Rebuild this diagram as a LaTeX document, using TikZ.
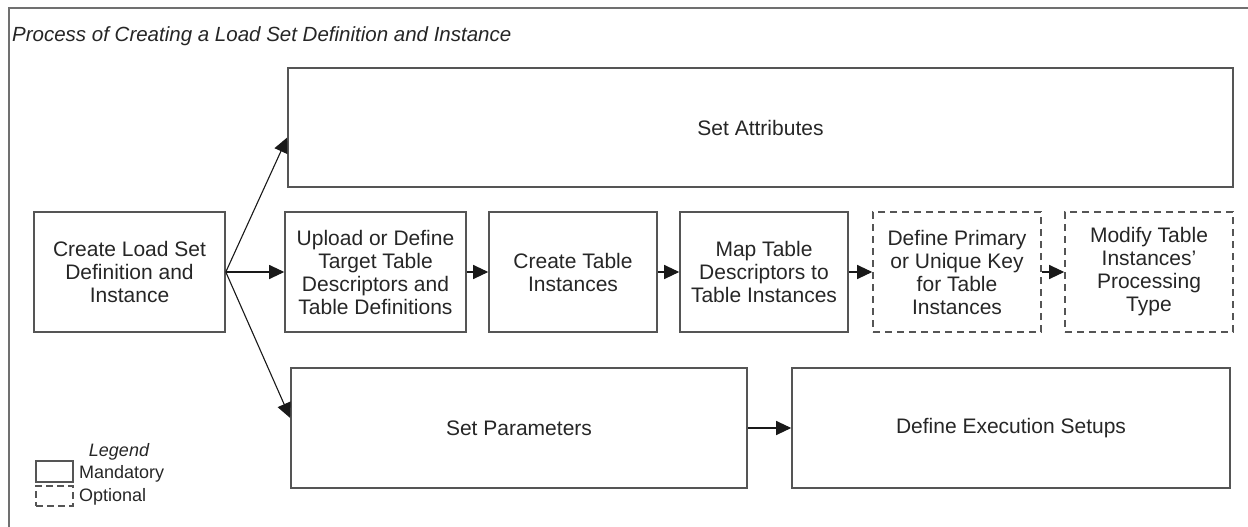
\documentclass[tikz,border=0pt]{standalone}
\usepackage{fontspec}
\setmainfont{Liberation Sans}
\usetikzlibrary{arrows.meta}
\definecolor{boxgray}{HTML}{555555}
\definecolor{framegray}{HTML}{707070}
\tikzset{
  box/.style={draw=boxgray, line width=1.6pt, rectangle, inner sep=0pt, align=center,
    font=\fontsize{21}{23}\selectfont, text=black!85},
  optbox/.style={box, dash pattern=on 7pt off 5pt},
  conn/.style={draw=black!90, line width=1.1pt, -{Triangle[length=15pt,width=14pt]}},
  lgd/.style={font=\fontsize{18}{20}\selectfont, text=black!85, inner sep=0pt}
}
\begin{document}
\begin{tikzpicture}[x=1pt, y=-1pt]
\useasboundingbox (0,0) rectangle (1248,527);
% frame
\draw[framegray, line width=2.2pt] (9,527) -- (9,8) -- (1248,8);
\node[anchor=west, inner sep=0pt, font=\fontsize{20.5}{24}\selectfont\itshape, text=black!85] (title) at (12,36) {Process of Creating a Load Set Definition and Instance};
% boxes
\node[box, minimum width=191pt, minimum height=120pt] (CL) at (129.5,272) {Create Load Set\\Definition and\\Instance};
\node[box, minimum width=945pt, minimum height=119pt] (SA) at (760.5,127.5) {Set Attributes};
\node[box, minimum width=181pt, minimum height=120pt] (UP) at (375.5,272) {Upload or Define\\Target Table\\Descriptors and\\Table Definitions};
\node[box, minimum width=168pt, minimum height=120pt] (CT) at (573,272) {Create Table\\Instances};
\node[box, minimum width=168pt, minimum height=120pt] (MT) at (764,272) {Map Table\\Descriptors to\\Table Instances};
\node[optbox, minimum width=168pt, minimum height=120pt] (DP) at (957,272) {Define Primary\\or Unique Key\\for Table\\Instances};
\node[optbox, minimum width=168pt, minimum height=120pt] (MO) at (1149,272) {Modify Table\\Instances’\\Processing\\Type};
\node[box, minimum width=456pt, minimum height=120pt] (SP) at (519,428) {Set Parameters};
\node[box, minimum width=438pt, minimum height=120pt] (DE) at (1011,428) {Define Execution Setups};
% connectors
\coordinate (saIn) at ([yshift=-10pt]SA.west);
\coordinate (spIn) at ([yshift=10pt]SP.west);
\draw[conn] (CL.east) -- (saIn);
\draw[conn] (CL.east) -- (UP.west);
\draw[conn] (CL.east) -- (spIn);
\draw[conn] (UP.east) -- (CT.west);
\draw[conn] (CT.east) -- (MT.west);
\draw[conn] (MT.east) -- (DP.west);
\draw[conn] (DP.east) -- (MO.west);
\draw[conn] (SP.east) -- (DE.west);
% legend
\node[lgd, font=\fontsize{18}{20}\selectfont\itshape] (lgT) at (119,452) {Legend};
\node[draw=boxgray, line width=1.4pt, minimum width=37pt, minimum height=21pt, inner sep=0pt] (lgM) at (54.5,471.5) {};
\node[draw=boxgray, line width=1.4pt, dash pattern=on 7pt off 4pt, minimum width=37pt, minimum height=20pt, inner sep=0pt] (lgO) at (54.5,496) {};
\node[lgd, anchor=west] (lgMt) at (79,474) {Mandatory};
\node[lgd, anchor=west] (lgOt) at (79,497) {Optional};
\end{tikzpicture}
\end{document}
